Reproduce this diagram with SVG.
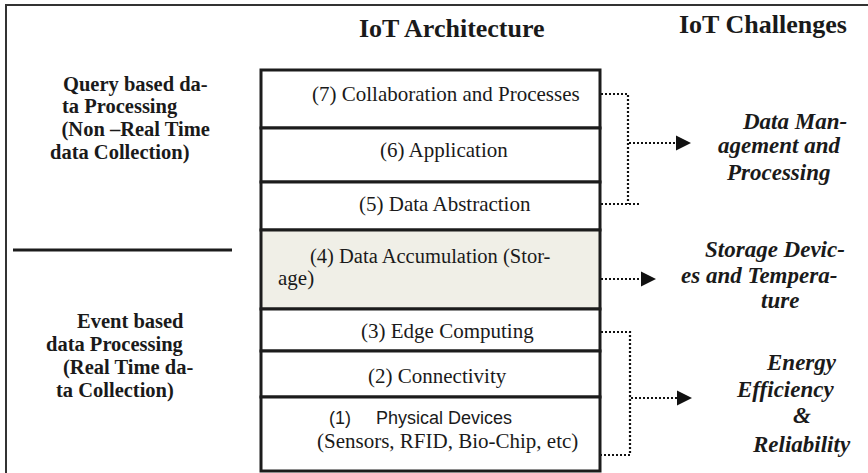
<svg xmlns="http://www.w3.org/2000/svg" width="868" height="473" viewBox="0 0 868 473">
<defs>
<style>
.layer{stroke:#1c1c1c;stroke-width:3;fill:#ffffff}
.grey{fill:#f0efe7}
.lt{font-family:"Liberation Serif","Times New Roman",serif;font-size:21px;fill:#1a1a1a}
.sans{font-family:"Liberation Sans",Arial,sans-serif;font-size:18px;fill:#1a1a1a}
.side{font-family:"Liberation Serif","Times New Roman",serif;font-size:20.5px;font-weight:bold;fill:#1a1a1a}
.title{font-family:"Liberation Serif","Times New Roman",serif;font-size:26px;font-weight:bold;fill:#1a1a1a}
.ch{font-family:"Liberation Serif","Times New Roman",serif;font-size:23px;font-weight:bold;font-style:italic;fill:#1a1a1a}
.dot{stroke:#111;stroke-width:2.2;stroke-dasharray:2 2;fill:none}
</style>
<marker id="arr" markerWidth="16" markerHeight="16" refX="0" refY="8" orient="auto" markerUnits="userSpaceOnUse">
<path d="M0,0.5 L15,8 L0,15.5 Z" fill="#111"/>
</marker>
</defs>
<rect x="6" y="5" width="880" height="490" fill="#fff" stroke="#333" stroke-width="2"/>
<g id="title-arch"><text class="title" x="359" y="37">IoT Architecture</text></g>
<g id="title-chal"><text class="title" x="679" y="33">IoT Challenges</text></g>
<g id="query-label">
<text class="side" x="63" y="91">Query based da-</text>
<text class="side" x="62" y="113">ta Processing</text>
<text class="side" x="61.5" y="136">(Non –Real Time</text>
<text class="side" x="50" y="159">data Collection)</text>
</g>
<g id="divider"><line x1="13" y1="250" x2="232" y2="250" stroke="#1c1c1c" stroke-width="3"/></g>
<g id="event-label">
<text class="side" x="77" y="328">Event based</text>
<text class="side" x="46" y="351">data Processing</text>
<text class="side" x="63" y="374">(Real Time da-</text>
<text class="side" x="56" y="397">ta Collection)</text>
</g>
<g id="layer7"><rect class="layer" x="261" y="70" width="339" height="58"/><text class="lt" x="312" y="101">(7) Collaboration and Processes</text></g>
<g id="layer6"><rect class="layer" x="261" y="128" width="339" height="54"/><text class="lt" x="380" y="157">(6) Application</text></g>
<g id="layer5"><rect class="layer" x="261" y="182" width="339" height="48"/><text class="lt" x="359" y="211">(5) Data Abstraction</text></g>
<g id="layer4"><rect class="layer grey" x="261" y="230" width="339" height="79"/><text class="lt" x="310" y="263" style="font-size:20.5px">(4) Data Accumulation (Stor-</text><text class="lt" x="278" y="285">age)</text></g>
<g id="layer3"><rect class="layer" x="261" y="309" width="339" height="42"/><text class="lt" x="361" y="338">(3) Edge Computing</text></g>
<g id="layer2"><rect class="layer" x="261" y="351" width="339" height="46"/><text class="lt" x="368" y="383">(2) Connectivity</text></g>
<g id="layer1"><rect class="layer" x="261" y="397" width="339" height="74"/><text class="sans" x="329" y="424">(1)</text><text class="sans" x="376" y="424">Physical Devices</text><text class="lt" x="317" y="448">(Sensors, RFID, Bio-Chip, etc)</text></g>
<g id="connectors">
<path class="dot" d="M601,94 H628 V204 M601,204 H639"/>
<path class="dot" d="M629,143 H676" marker-end="url(#arr)"/>
<path class="dot" d="M601,279 H641" marker-end="url(#arr)"/>
<path class="dot" d="M601,332 H630 V455 H601"/>
<path class="dot" d="M631,398 H677" marker-end="url(#arr)"/>
</g>
<g id="chal-data">
<text class="ch" x="743" y="129">Data Man-</text>
<text class="ch" x="718" y="153">agement and</text>
<text class="ch" x="727" y="180">Processing</text>
</g>
<g id="chal-storage">
<text class="ch" x="705" y="257">Storage Devic-</text>
<text class="ch" x="681" y="283">es and Tempera-</text>
<text class="ch" x="761" y="308">ture</text>
</g>
<g id="chal-energy">
<text class="ch" x="767" y="370">Energy</text>
<text class="ch" x="737" y="397">Efficiency</text>
<text class="ch" x="793" y="423">&amp;</text>
<text class="ch" x="753" y="452">Reliability</text>
</g>
</svg>
